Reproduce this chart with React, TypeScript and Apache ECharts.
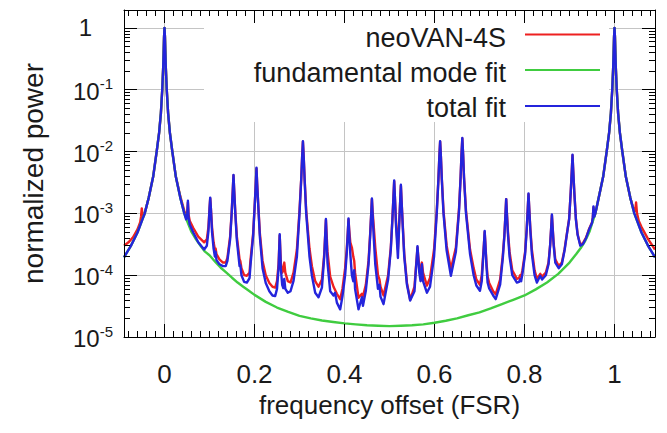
import React, { useEffect, useRef } from 'react';
import * as echarts from 'echarts';

// ---------- data (x: frequency offset in FSR, y: normalized power) ----------
const neoVAN4S: number[][] = [
  [-0.09, 3.0e-4], [-0.08, 3.4e-4], [-0.07, 4.1e-4], [-0.06, 5.5e-4], [-0.054, 7.2e-4], [-0.052, 9.0e-4], [-0.0505, 1.2e-3], [-0.049, 9.5e-4], [-0.046, 9.0e-4],
  [-0.044, 1.0e-3], [-0.035, 1.8e-3], [-0.025, 4.0e-3], [-0.0174, 0.01], [-0.012, 0.02], [-0.008, 0.042], [-0.005, 0.1], [-0.003, 0.22], [-0.002, 0.38], [-0.001, 0.71],
  [0, 1], [0.001, 0.71], [0.002, 0.38], [0.003, 0.22], [0.005, 0.1], [0.008, 0.042], [0.012, 0.02], [0.0174, 0.01], [0.025, 4.0e-3], [0.035, 1.9e-3], [0.044, 1.1e-3],
  [0.048, 9.0e-4], [0.0505, 1.0e-3], [0.052, 1.5e-3], [0.0535, 9.5e-4], [0.056, 7.6e-4], [0.064, 5.8e-4], [0.075, 4.2e-4], [0.0881, 3.4e-4], [0.0941, 3.8e-4], [0.0976, 6.0e-4],
  [0.1001, 1.2e-3], [0.1016, 1.75e-3], [0.1031, 1.2e-3], [0.1056, 6.0e-4], [0.1091, 3.4e-4], [0.112, 2.6e-4], [0.1135, 2.7e-4], [0.1155, 2.2e-4], [0.122, 1.8e-4], [0.13, 1.6e-4], [0.136, 1.6e-4],
  [0.1398, 1.9e-4], [0.1458, 4.2e-4], [0.1493, 1.05e-3], [0.1518, 2.4e-3], [0.1533, 4.1e-3], [0.1548, 2.4e-3], [0.1573, 1.05e-3], [0.1608, 4.2e-4], [0.1668, 1.8e-4], [0.1685, 1.7e-4], [0.171, 1.3e-4], [0.177, 1.0e-4], [0.183, 9.8e-5], [0.189, 1.1e-4],
  [0.1909, 1.7e-4], [0.1969, 4.6e-4], [0.2004, 1.35e-3], [0.2029, 3.0e-3], [0.2044, 5.3e-3], [0.2059, 3.0e-3], [0.2084, 1.35e-3], [0.2119, 4.8e-4], [0.2179, 1.7e-4], [0.225, 1.0e-4], [0.233, 7.5e-5], [0.24, 6.5e-5], [0.246, 6.3e-5],
  [0.25, 8.0e-5], [0.2535, 1.5e-4], [0.256, 4.4e-4], [0.2585, 1.6e-4], [0.2615, 1.1e-4], [0.264, 1.2e-4], [0.2662, 1.6e-4], [0.2685, 1.1e-4], [0.274, 8.0e-5], [0.28, 7.6e-5],
  [0.2867, 1.1e-4], [0.2942, 2.6e-4], [0.3, 1.1e-3], [0.3038, 3.6e-3], [0.3058, 8.0e-3], [0.3076, 0.0145], [0.3094, 8.0e-3], [0.3114, 3.6e-3], [0.3149, 1.1e-3], [0.3222, 2.7e-4], [0.3276, 1.4e-4], [0.3349, 8.0e-5], [0.3422, 6.5e-5], [0.3498, 8.5e-5], [0.355, 2.2e-4], [0.3587, 7.8e-4], [0.3622, 2.4e-4], [0.3682, 9.5e-5], [0.3756, 6.5e-5], [0.3831, 5.0e-5],
  [0.3904, 4.1e-5], [0.3954, 6.0e-5], [0.4014, 1.3e-4], [0.4049, 2.6e-4], [0.4074, 5.0e-4], [0.4089, 8.0e-4], [0.4104, 5.5e-4], [0.4129, 3.4e-4], [0.4164, 2.8e-4], [0.4195, 2.0e-4], [0.4216, 1.7e-4], [0.4235, 1.1e-4], [0.4311, 4.3e-5], [0.4387, 5.0e-5], [0.441, 4.5e-5],
  [0.4474, 7.0e-5], [0.4534, 1.7e-4], [0.4569, 4.5e-4], [0.4594, 1.0e-3], [0.4609, 1.7e-3], [0.4624, 1.1e-3], [0.4649, 6.3e-4], [0.4684, 2.8e-4], [0.4744, 1.0e-4], [0.4778, 8.5e-5], [0.48, 6.5e-5], [0.4867, 4.7e-5],
  [0.4969, 1.0e-4], [0.5029, 2.8e-4], [0.5064, 8.0e-4], [0.5089, 1.9e-3], [0.5104, 3.3e-3], [0.5119, 1.9e-3], [0.5144, 7.5e-4], [0.5187, 2.6e-4], [0.5213, 6.5e-4], [0.5238, 1.6e-3], [0.5253, 2.8e-3], [0.5268, 1.6e-3], [0.5293, 7.0e-4], [0.5328, 2.2e-4], [0.5388, 7.5e-5], [0.5459, 4.0e-5],
  [0.5555, 6.5e-5], [0.5582, 1.2e-4], [0.5607, 2.0e-4], [0.5622, 2.8e-4], [0.5637, 2.1e-4], [0.5662, 1.4e-4], [0.569, 1.1e-4], [0.572, 1.6e-4], [0.5745, 1.1e-4], [0.5831, 6.8e-5], [0.59, 9.0e-5],
  [0.599, 2.6e-4], [0.605, 1.1e-3], [0.6087, 3.6e-3], [0.6107, 8.0e-3], [0.6125, 0.0145], [0.6143, 8.0e-3], [0.6163, 3.6e-3], [0.62, 1.1e-3], [0.627, 3.0e-4], [0.6364, 1.26e-4],
  [0.6475, 2.8e-4], [0.6545, 1.2e-3], [0.658, 3.8e-3], [0.66, 9.0e-3], [0.6618, 0.0163], [0.6636, 9.0e-3], [0.6656, 3.8e-3], [0.67, 1.1e-3], [0.679, 2.6e-4], [0.687, 1.3e-4], [0.693, 8.5e-5], [0.701, 7.0e-5],
  [0.705, 1.0e-4], [0.7075, 1.8e-4], [0.71, 3.3e-4], [0.7115, 5.0e-4], [0.713, 3.3e-4], [0.7155, 1.6e-4], [0.718, 9.5e-5], [0.7215, 7.5e-5], [0.7304, 5.5e-5], [0.736, 4.9e-5],
  [0.7458, 8.5e-5], [0.7518, 2.1e-4], [0.7553, 4.5e-4], [0.7578, 1.0e-3], [0.7593, 1.7e-3], [0.7608, 1.05e-3], [0.7633, 5.0e-4], [0.7668, 2.4e-4], [0.7728, 1.2e-4], [0.7831, 8.7e-5], [0.788, 9.0e-5], [0.7904, 1.0e-4], [0.7925, 9.5e-5],
  [0.7954, 1.2e-4], [0.8014, 2.4e-4], [0.8049, 5.6e-4], [0.8074, 1.25e-3], [0.8089, 2.05e-3], [0.8104, 1.25e-3], [0.8129, 5.8e-4], [0.8164, 2.6e-4], [0.8224, 1.2e-4], [0.8276, 8.7e-5], [0.835, 1.05e-4], [0.839, 9.5e-5],
  [0.8474, 1.1e-4], [0.8534, 1.6e-4], [0.8569, 3.0e-4], [0.8594, 6.0e-4], [0.8609, 9.3e-4], [0.8624, 6.2e-4], [0.8649, 3.2e-4], [0.8684, 1.8e-4], [0.876, 1.4e-4],
  [0.883, 1.6e-4], [0.889, 2.6e-4], [0.894, 4.6e-4], [0.8992, 8.2e-4], [0.9027, 2.2e-3], [0.9052, 5.0e-3], [0.9067, 8.7e-3], [0.9082, 5.0e-3], [0.9107, 2.2e-3], [0.9142, 8.2e-4], [0.918, 4.6e-4], [0.924, 3.1e-4],
  [0.93, 3.3e-4], [0.937, 4.1e-4], [0.944, 5.7e-4], [0.95, 7.1e-4], [0.9518, 8.6e-4], [0.9533, 1.25e-3], [0.9548, 8.9e-4], [0.9575, 1.0e-3], [0.965, 1.8e-3], [0.975, 4.0e-3], [0.9826, 0.01], [0.988, 0.02], [0.992, 0.042], [0.995, 0.1], [0.997, 0.22], [0.998, 0.38], [0.999, 0.71],
  [1.0, 1.0], [1.001, 0.71], [1.002, 0.38], [1.003, 0.22], [1.005, 0.1], [1.008, 0.042], [1.012, 0.02], [1.0174, 0.01], [1.025, 4.0e-3], [1.035, 1.8e-3], [1.042, 1.2e-3], [1.046, 1.1e-3], [1.048, 1.5e-3], [1.05, 1.0e-3], [1.054, 7.5e-4], [1.06, 6.0e-4], [1.075, 3.8e-4], [1.09, 2.6e-4],
];

const fundamentalFit: number[][] = [
  [-0.09, 1.95e-4], [-0.075, 2.95e-4], [-0.06, 4.9e-4], [-0.044, 1.0e-3], [-0.035, 1.8e-3], [-0.025, 4.0e-3], [-0.0174, 0.01], [-0.012, 0.02], [-0.008, 0.042], [-0.005, 0.1], [-0.003, 0.22], [-0.002, 0.38], [-0.001, 0.71],
  [0, 1], [0.001, 0.71], [0.002, 0.38], [0.003, 0.22], [0.005, 0.1], [0.008, 0.042], [0.012, 0.02], [0.0174, 0.01], [0.025, 4.0e-3], [0.035, 1.8e-3], [0.044, 1.0e-3],
  [0.05, 7.6e-4], [0.06, 5.0e-4], [0.07, 3.8e-4], [0.08, 3.0e-4], [0.09, 2.4e-4], [0.1, 2.1e-4], [0.1125, 1.65e-4], [0.125, 1.32e-4], [0.1375, 1.1e-4], [0.15, 9.1e-5], [0.1625, 7.6e-5],
  [0.175, 6.5e-5], [0.1875, 5.6e-5], [0.2, 4.8e-5], [0.225, 3.7e-5], [0.25, 3.0e-5], [0.275, 2.55e-5], [0.3, 2.2e-5], [0.325, 2.0e-5], [0.35, 1.85e-5], [0.375, 1.75e-5], [0.4, 1.66e-5],
  [0.425, 1.6e-5], [0.45, 1.55e-5], [0.475, 1.52e-5], [0.5, 1.5e-5], [0.525, 1.52e-5], [0.55, 1.55e-5], [0.575, 1.6e-5], [0.6, 1.7e-5], [0.625, 1.83e-5], [0.65, 2.0e-5], [0.675, 2.25e-5],
  [0.7, 2.5e-5], [0.725, 2.9e-5], [0.75, 3.4e-5], [0.775, 4.0e-5], [0.8, 4.7e-5], [0.825, 5.9e-5], [0.85, 7.6e-5], [0.875, 1.05e-4], [0.9, 1.6e-4], [0.915, 2.2e-4], [0.925, 2.75e-4],
  [0.935, 3.6e-4], [0.94, 4.3e-4], [0.945, 5.2e-4], [0.95, 6.8e-4], [0.9575, 1.0e-3], [0.965, 1.8e-3], [0.975, 4.0e-3], [0.9826, 0.01], [0.988, 0.02], [0.992, 0.042], [0.995, 0.1], [0.997, 0.22], [0.998, 0.38], [0.999, 0.71],
  [1.0, 1.0], [1.001, 0.71], [1.002, 0.38], [1.003, 0.22], [1.005, 0.1], [1.008, 0.042], [1.012, 0.02], [1.0174, 0.01], [1.025, 4.0e-3], [1.035, 1.8e-3], [1.044, 1.0e-3], [1.06, 4.9e-4], [1.075, 2.95e-4], [1.09, 1.95e-4],
];

const totalFit: number[][] = [
  [-0.09, 1.95e-4], [-0.075, 2.95e-4], [-0.06, 4.9e-4], [-0.044, 1.0e-3], [-0.035, 1.8e-3], [-0.025, 4.0e-3], [-0.0174, 0.01], [-0.012, 0.02], [-0.008, 0.042], [-0.005, 0.1], [-0.003, 0.22], [-0.002, 0.38], [-0.001, 0.71],
  [0, 1], [0.001, 0.71], [0.002, 0.38], [0.003, 0.22], [0.005, 0.1], [0.008, 0.042], [0.012, 0.02], [0.0174, 0.01], [0.025, 4.0e-3], [0.035, 1.8e-3], [0.044, 1.0e-3],
  [0.048, 8.0e-4], [0.0505, 9.5e-4], [0.052, 1.6e-3], [0.0535, 8.5e-4], [0.056, 6.6e-4], [0.064, 4.9e-4], [0.075, 3.4e-4], [0.0881, 2.6e-4], [0.0941, 3.0e-4], [0.0976, 5.1e-4],
  [0.1001, 1.2e-3], [0.1016, 1.8e-3], [0.1031, 1.2e-3], [0.1056, 5.0e-4], [0.1091, 2.7e-4], [0.112, 2.0e-4], [0.1135, 2.4e-4], [0.1155, 1.75e-4], [0.122, 1.5e-4], [0.13, 1.4e-4], [0.136, 1.4e-4],
  [0.1398, 1.7e-4], [0.1458, 3.8e-4], [0.1493, 1.0e-3], [0.1518, 2.4e-3], [0.1533, 4.2e-3], [0.1548, 2.4e-3], [0.1573, 1.0e-3], [0.1608, 3.7e-4], [0.1668, 1.4e-4], [0.1685, 1.45e-4], [0.171, 1.0e-4], [0.177, 7.8e-5], [0.183, 7.6e-5], [0.189, 9.0e-5],
  [0.1909, 1.4e-4], [0.1969, 4.3e-4], [0.2004, 1.3e-3], [0.2029, 3.0e-3], [0.2044, 5.5e-3], [0.2059, 3.0e-3], [0.2084, 1.3e-3], [0.2119, 4.2e-4], [0.2179, 1.3e-4], [0.225, 7.5e-5], [0.233, 5.5e-5], [0.24, 4.7e-5], [0.246, 4.6e-5],
  [0.25, 6.0e-5], [0.2535, 1.3e-4], [0.256, 4.6e-4], [0.2585, 1.3e-4], [0.2615, 7.0e-5], [0.264, 6.2e-5], [0.2662, 8.7e-5], [0.2685, 6.0e-5], [0.274, 5.2e-5], [0.28, 5.5e-5],
  [0.2867, 8.1e-5], [0.2942, 2.0e-4], [0.3, 1.0e-3], [0.3038, 3.5e-3], [0.3058, 8.0e-3], [0.3076, 0.0147], [0.3094, 8.0e-3], [0.3114, 3.5e-3], [0.3149, 1.0e-3], [0.3222, 2.0e-4], [0.3276, 9.8e-5], [0.3349, 5.2e-5], [0.3422, 4.4e-5], [0.3498, 6.3e-5], [0.355, 2.0e-4], [0.3587, 8.1e-4], [0.3622, 1.6e-4], [0.3682, 5.5e-5], [0.3756, 4.7e-5], [0.379, 5.2e-5], [0.3831, 3.6e-5],
  [0.3904, 2.8e-5], [0.3954, 4.5e-5], [0.4014, 1.0e-4], [0.4049, 2.2e-4], [0.4074, 4.9e-4], [0.4089, 8.3e-4], [0.4104, 4.9e-4], [0.4129, 2.2e-4], [0.4164, 1.0e-4], [0.4195, 8.0e-5], [0.4216, 1.2e-4], [0.4235, 6.0e-5], [0.4311, 2.8e-5], [0.4387, 4.4e-5], [0.441, 3.2e-5],
  [0.4474, 5.6e-5], [0.4534, 1.5e-4], [0.4569, 4.2e-4], [0.4594, 1.0e-3], [0.4609, 1.74e-3], [0.4624, 1.0e-3], [0.4649, 4.2e-4], [0.4684, 1.5e-4], [0.4744, 6.0e-5], [0.4778, 7.0e-5], [0.48, 4.5e-5], [0.4867, 3.4e-5],
  [0.4969, 8.5e-5], [0.5029, 2.6e-4], [0.5064, 7.9e-4], [0.5089, 1.9e-3], [0.5104, 3.4e-3], [0.5119, 1.9e-3], [0.5144, 6.5e-4], [0.5187, 1.9e-4], [0.5213, 6.0e-4], [0.5238, 1.6e-3], [0.5253, 2.9e-3], [0.5268, 1.6e-3], [0.5293, 6.5e-4], [0.5328, 2.0e-4], [0.5388, 7.0e-5], [0.5459, 3.9e-5],
  [0.5555, 5.5e-5], [0.5582, 1.1e-4], [0.5607, 2.0e-4], [0.5622, 2.95e-4], [0.5637, 2.0e-4], [0.5662, 1.1e-4], [0.569, 8.0e-5], [0.572, 1.5e-4], [0.5745, 8.0e-5], [0.5831, 5.2e-5], [0.59, 6.5e-5],
  [0.599, 2.0e-4], [0.605, 1.0e-3], [0.6087, 3.5e-3], [0.6107, 8.0e-3], [0.6125, 0.0147], [0.6143, 8.0e-3], [0.6163, 3.5e-3], [0.62, 1.0e-3], [0.627, 2.5e-4], [0.6364, 9.8e-5],
  [0.6475, 2.4e-4], [0.6545, 1.1e-3], [0.658, 3.8e-3], [0.66, 9.0e-3], [0.6618, 0.0166], [0.6636, 9.0e-3], [0.6656, 3.8e-3], [0.67, 1.0e-3], [0.679, 2.2e-4], [0.687, 1.0e-4], [0.693, 6.8e-5], [0.701, 5.6e-5],
  [0.705, 8.0e-5], [0.7075, 1.6e-4], [0.71, 3.2e-4], [0.7115, 5.2e-4], [0.713, 3.2e-4], [0.7155, 1.4e-4], [0.718, 7.6e-5], [0.7215, 6.1e-5], [0.7304, 4.7e-5], [0.736, 4.1e-5],
  [0.7458, 7.0e-5], [0.7518, 1.9e-4], [0.7553, 4.3e-4], [0.7578, 9.8e-4], [0.7593, 1.7e-3], [0.7608, 1.0e-3], [0.7633, 4.5e-4], [0.7668, 2.0e-4], [0.7728, 1.0e-4], [0.7831, 7.6e-5], [0.788, 7.8e-5], [0.7904, 8.6e-5], [0.7925, 8.0e-5],
  [0.7954, 1.05e-4], [0.8014, 2.2e-4], [0.8049, 5.4e-4], [0.8074, 1.24e-3], [0.8089, 2.1e-3], [0.8104, 1.24e-3], [0.8129, 5.4e-4], [0.8164, 2.2e-4], [0.8224, 1.0e-4], [0.8276, 7.6e-5], [0.835, 9.8e-5], [0.839, 8.5e-5],
  [0.8474, 1.0e-4], [0.8534, 1.5e-4], [0.8569, 3.0e-4], [0.8594, 6.0e-4], [0.8609, 9.6e-4], [0.8624, 6.0e-4], [0.8649, 3.0e-4], [0.8684, 1.6e-4], [0.876, 1.3e-4],
  [0.883, 1.5e-4], [0.889, 2.5e-4], [0.894, 4.5e-4], [0.8992, 8.0e-4], [0.9027, 2.2e-3], [0.9052, 5.0e-3], [0.9067, 8.9e-3], [0.9082, 5.0e-3], [0.9107, 2.2e-3], [0.9142, 8.0e-4], [0.918, 4.5e-4], [0.924, 3.0e-4],
  [0.93, 3.2e-4], [0.937, 4.0e-4], [0.944, 5.6e-4], [0.95, 7.0e-4], [0.9518, 8.5e-4], [0.9533, 1.3e-3], [0.9548, 8.8e-4], [0.9575, 1.0e-3], [0.965, 1.8e-3], [0.975, 4.0e-3], [0.9826, 0.01], [0.988, 0.02], [0.992, 0.042], [0.995, 0.1], [0.997, 0.22], [0.998, 0.38], [0.999, 0.71],
  [1.0, 1.0], [1.001, 0.71], [1.002, 0.38], [1.003, 0.22], [1.005, 0.1], [1.008, 0.042], [1.012, 0.02], [1.0174, 0.01], [1.025, 4.0e-3], [1.035, 1.8e-3], [1.044, 1.0e-3], [1.06, 4.9e-4], [1.075, 2.95e-4], [1.09, 1.95e-4],
];

// ---------- axes ----------
const X_MIN = -0.09;
const X_MAX = 1.09;
const X_MAJOR = [0, 0.2, 0.4, 0.6, 0.8, 1];
const Y_MIN = 1e-5;
const Y_MAX = 1.95;
const Y_DECADES = [-5, -4, -3, -2, -1, 0];

const SERIES_NAMES = ['neoVAN-4S', 'fundamental mode fit', 'total fit'];
const COLORS = ['#ee2020', '#40cc40', '#2424dc'];

const FONT = '"Liberation Sans", Arial, sans-serif';
const TXT = '#1a1a1a';

const xMinor: number[] = [];
for (let i = -4; i <= 54; i++) {
  if (i % 10 !== 0) xMinor.push(Math.round(i * 2) / 100);
}
const yMinorLog: number[] = [];
for (const e of [-5, -4, -3, -2, -1]) {
  for (let m = 2; m <= 9; m++) yMinorLog.push(e + Math.log10(m));
}
const LOG_MAX = Math.log10(Y_MAX);

export default function App() {
  const ref = useRef<HTMLDivElement>(null);

  useEffect(() => {
    if (!ref.current) return;
    const chart = echarts.init(ref.current, undefined, { renderer: 'svg' });

    const tickAxisX = (position: 'top' | 'bottom', values: number[], len: number, line: boolean) => ({
      type: 'value',
      position,
      min: X_MIN,
      max: X_MAX,
      z: 5,
      axisLine: { show: line, onZero: false, lineStyle: { color: '#000', width: 1 } },
      axisTick: { show: true, inside: true, length: len, customValues: values, lineStyle: { color: '#000', width: 1 } },
      axisLabel: { show: false },
      splitLine: { show: false },
    });
    const tickAxisY = (position: 'left' | 'right', values: number[], len: number, line: boolean) => ({
      type: 'value',
      position,
      min: -5,
      max: LOG_MAX,
      z: 5,
      axisLine: { show: line, onZero: false, lineStyle: { color: '#000', width: 1 } },
      axisTick: { show: true, inside: true, length: len, customValues: values, lineStyle: { color: '#000', width: 1 } },
      axisLabel: { show: false },
      splitLine: { show: false },
    });

    const option: any = {
      animation: false,
      backgroundColor: '#ffffff',
      grid: { left: 124, top: 10, width: 531, height: 327, containLabel: false },
      xAxis: [
        {
          type: 'value',
          position: 'bottom',
          min: X_MIN,
          max: X_MAX,
          z: 0,
          name: 'frequency offset (FSR)',
          nameLocation: 'middle',
          nameGap: 55,
          nameTextStyle: { fontSize: 26, fontFamily: FONT, color: TXT },
          axisLine: { show: false },
          axisTick: { show: false, customValues: X_MAJOR },
          axisLabel: {
            customValues: X_MAJOR,
            margin: 24,
            fontSize: 26,
            fontFamily: FONT,
            color: TXT,
            formatter: (v: number) => (v === 0 ? '0' : v === 1 ? '1' : v.toFixed(1)),
          },
          splitLine: { show: true, lineStyle: { color: '#c4c4c4', width: 1 } },
        },
        tickAxisX('bottom', xMinor, 6, true),
        tickAxisX('bottom', X_MAJOR, 13, false),
        tickAxisX('top', xMinor, 6, true),
        tickAxisX('top', X_MAJOR, 13, false),
      ],
      yAxis: [
        {
          type: 'log',
          logBase: 10,
          position: 'left',
          min: Y_MIN,
          max: Y_MAX,
          z: 0,
          name: 'normalized power',
          nameLocation: 'middle',
          nameGap: 77,
          nameTextStyle: { fontSize: 28, fontFamily: FONT, color: TXT },
          axisLine: { show: false },
          axisTick: { show: false },
          axisLabel: {
            margin: 11,
            showMaxLabel: false,
            fontFamily: FONT,
            color: TXT,
            formatter: (v: number) => {
              const e = Math.round(Math.log10(v));
              return e === 0 ? '{one|1}' : `{b|10}{s|${e}}`;
            },
            rich: {
              b: { fontSize: 24, fontFamily: FONT, color: TXT, verticalAlign: 'bottom' },
              s: { fontSize: 15, fontFamily: FONT, color: TXT, verticalAlign: 'bottom', padding: [0, 0, 12, 0] },
              one: { fontSize: 24, fontFamily: FONT, color: TXT, padding: [0, 21, 0, 0] },
            },
          },
          splitLine: { show: true, lineStyle: { color: '#c4c4c4', width: 1 } },
        },
        tickAxisY('left', yMinorLog, 6, true),
        tickAxisY('left', Y_DECADES, 13, false),
        tickAxisY('right', yMinorLog, 6, true),
        tickAxisY('right', Y_DECADES, 13, false),
      ],
      graphic: {
        elements: [
          { type: 'rect', z: 1, silent: true, shape: { x: 204, y: 11, width: 405, height: 111 }, style: { fill: '#ffffff' } },
          { type: 'text', z: 10, x: 506, y: 37.5, style: { text: SERIES_NAMES[0], align: 'right', verticalAlign: 'middle', fontSize: 27, fontFamily: FONT, fill: TXT } },
          { type: 'text', z: 10, x: 506, y: 72.5, style: { text: SERIES_NAMES[1], align: 'right', verticalAlign: 'middle', fontSize: 27, fontFamily: FONT, fill: TXT } },
          { type: 'text', z: 10, x: 506, y: 107.5, style: { text: SERIES_NAMES[2], align: 'right', verticalAlign: 'middle', fontSize: 27, fontFamily: FONT, fill: TXT } },
          { type: 'line', z: 10, shape: { x1: 525, y1: 34.5, x2: 600, y2: 34.5 }, style: { stroke: COLORS[0], lineWidth: 2 } },
          { type: 'line', z: 10, shape: { x1: 525, y1: 70, x2: 600, y2: 70 }, style: { stroke: COLORS[1], lineWidth: 2 } },
          { type: 'line', z: 10, shape: { x1: 525, y1: 106, x2: 600, y2: 106 }, style: { stroke: COLORS[2], lineWidth: 2 } },
        ],
      },
      series: [neoVAN4S, fundamentalFit, totalFit].map((d, i) => ({
        name: SERIES_NAMES[i],
        type: 'line',
        xAxisIndex: 0,
        yAxisIndex: 0,
        data: d,
        showSymbol: false,
        symbol: 'none',
        silent: true,
        z: 2 + i,
        lineStyle: { color: COLORS[i], width: 2.4, join: 'round' },
      })),
    };

    chart.setOption(option);
    return () => chart.dispose();
  }, []);

  return <div ref={ref} style={{ position: 'absolute', left: 0, top: 0, width: 667, height: 433 }} />;
}
